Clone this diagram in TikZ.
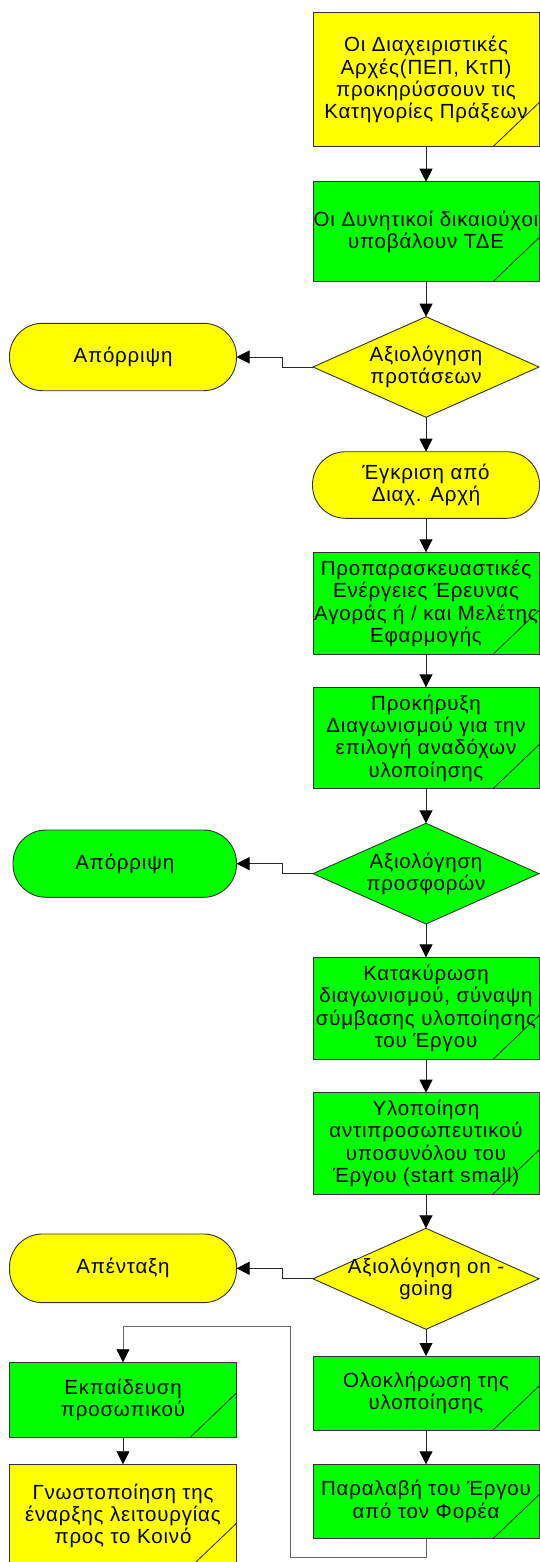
\documentclass[tikz,border=0pt]{standalone}
\usepackage{fontspec}
\setmainfont{Liberation Sans}[LetterSpace=4]
\usepackage{tikz}
\usetikzlibrary{positioning,shapes.geometric,arrows.meta}
\definecolor{yel}{RGB}{255,255,0}
\definecolor{grn}{RGB}{0,255,0}
\tikzset{
  txt/.style={font=\fontsize{20.5}{22.3}\selectfont, align=center},
  proc/.style={rectangle, draw=black!80, line width=0.9pt, txt, inner sep=0pt, outer sep=0pt,
    minimum width=226pt,
    path picture={\draw[black!85, line width=0.8pt] ([xshift=-46pt]path picture bounding box.south east) -- ++(46pt,44pt);}},
  decision/.style={diamond, draw=black!80, line width=0.9pt, inner sep=0pt, outer sep=0pt,
    minimum width=226pt},
  dlabel/.style={txt, inner sep=0pt},
  terminal/.style={rectangle, rounded corners=33pt, draw=black!80, line width=0.9pt, txt,
    inner sep=0pt, outer sep=0pt, minimum width=227pt},
  arr/.style={draw=black!85, line width=0.9pt, -{Triangle[length=13pt,width=13pt,color=black]}},
  loopline/.style={arr, draw=black!60}
}
\begin{document}
\begin{tikzpicture}[x=1pt,y=-1pt]
  \useasboundingbox[fill=white] (0,0) rectangle (539,1562);

  \node[proc, fill=yel, minimum height=134pt] (b1) at (426,79.7)
    {Οι Διαχειριστικές\\Αρχές(ΠΕΠ, ΚτΠ)\\προκηρύσσουν τις\\Κατηγορίες Πράξεων};
  \node[proc, fill=grn, minimum height=100pt, below=35pt of b1] (b2)
    {Οι Δυνητικοί δικαιούχοι\\υποβάλουν ΤΔΕ};
  \node[decision, fill=yel, minimum height=100.6pt, below=35pt of b2,
    label={[dlabel]center:Αξιολόγηση\\προτάσεων}] (d1) {};
  \node[terminal, fill=yel, minimum height=66.6pt, below=34.4pt of d1] (appr)
    {Έγκριση από\\Διαχ. Αρχή};
  \node[proc, fill=grn, minimum height=102pt, below=34pt of appr] (b5)
    {Προπαρασκευαστικές\\Ενέργειες Έρευνας\\Αγοράς ή / και Μελέτης\\Εφαρμογής};
  \node[proc, fill=grn, minimum height=101.4pt, below=33pt of b5] (b6)
    {Προκήρυξη\\Διαγωνισμού για την\\επιλογή αναδόχων\\υλοποίησης};
  \node[decision, fill=grn, minimum height=100.7pt, below=34.6pt of b6,
    label={[dlabel]center:Αξιολόγηση\\προσφορών}] (d2) {};
  \node[proc, fill=grn, minimum height=102pt, below=33.3pt of d2] (b8)
    {Κατακύρωση\\διαγωνισμού, σύναψη\\σύμβασης υλοποίησης\\του Έργου};
  \node[proc, fill=grn, minimum height=101.3pt, below=33.4pt of b8] (b9)
    {Υλοποίηση\\αντιπροσωπευτικού\\υποσυνόλου του\\Έργου (start small)};
  \node[decision, fill=yel, minimum height=101pt, below=34.3pt of b9,
    label={[dlabel]center:Αξιολόγηση on -\\going}] (d3) {};
  \node[proc, fill=grn, minimum height=74pt, below=26.7pt of d3] (b11)
    {Ολοκλήρωση της\\υλοποίησης};
  \node[proc, fill=grn, minimum height=74.4pt, below=34.3pt of b11] (b12)
    {Παραλαβή του Έργου\\από τον Φορέα};

  \node[terminal, fill=yel, minimum height=67.4pt, left=76.5pt of d1, yshift=10pt] (rej1) {Απόρριψη};
  \node[terminal, fill=grn, minimum height=67.3pt, minimum width=223.5pt, left=76.5pt of d2, yshift=10pt] (rej2) {Απόρριψη};
  \node[terminal, fill=yel, minimum height=68.7pt, left=76.5pt of d3, yshift=10.5pt] (drop) {Απένταξη};
  \node[proc, fill=grn, minimum width=227pt, minimum height=74.7pt, below=59.6pt of drop] (train)
    {Εκπαίδευση\\προσωπικού};
  \node[proc, fill=yel, minimum width=227pt, minimum height=103pt, below=27.3pt of train] (notice)
    {Γνωστοποίηση της\\έναρξης λειτουργίας\\προς το Κοινό};

  \coordinate (lpA) at (290,1557.5);
  \coordinate (lpB) at (290,1326);

  \draw[arr] (b1) -- (b2);
  \draw[arr] (b2) -- (d1);
  \draw[arr] (d1) -- (appr);
  \draw[arr] (appr) -- (b5);
  \draw[arr] (b5) -- (b6);
  \draw[arr] (b6) -- (d2);
  \draw[arr] (d2) -- (b8);
  \draw[arr] (b8) -- (b9);
  \draw[arr] (b9) -- (d3);
  \draw[arr] (d3) -- (b11);
  \draw[arr] (b11) -- (b12);
  \draw[arr] (d1.west) -- ++(-30.5pt,0) |- (rej1.east);
  \draw[arr] (d2.west) -- ++(-30.5pt,0) |- (rej2.east);
  \draw[arr] (d3.west) -- ++(-30.5pt,0) |- (drop.east);
  \draw[arr] (train) -- (notice);
  \draw[loopline] (b12.south) |- (lpA) -- (lpB) -| (train.north);
\end{tikzpicture}
\end{document}
